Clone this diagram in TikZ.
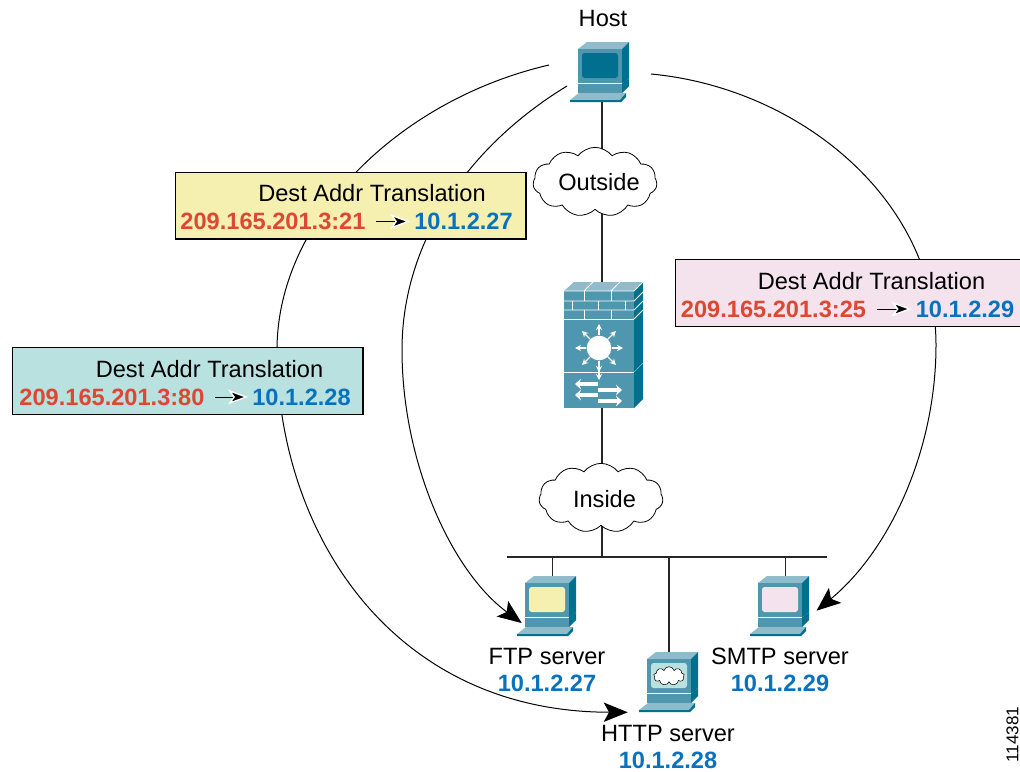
\documentclass[tikz,border=0pt]{standalone}
\usepackage{fontspec}
\setmainfont{Liberation Sans}
\usetikzlibrary{shapes.symbols,arrows.meta,positioning,calc}

\definecolor{iconfront}{HTML}{4F97AF}
\definecolor{icontop}{HTML}{8FBBCB}
\definecolor{iconside}{HTML}{00708F}
\definecolor{ftpfill}{HTML}{F5F0B0}
\definecolor{httpfill}{HTML}{B9E1DF}
\definecolor{smtpfill}{HTML}{F4E3EC}
\definecolor{addrred}{HTML}{DD4733}
\definecolor{addrblue}{HTML}{0A72BC}

\begin{document}
\begin{tikzpicture}[
    x=0.75pt, y=-0.75pt,
    label/.style={font=\fontsize{17.7}{20}\selectfont, inner sep=0pt},
    addr/.style={label, font=\fontsize{17.7}{20}\selectfont\bfseries},
    srcaddr/.style={addr, text=addrred},
    dstaddr/.style={addr, text=addrblue},
    addrbox/.style={draw, line width=1pt, minimum width=263pt, minimum height=50pt, inner sep=0pt},
    addrarrow/.style={-{Stealth[length=15pt, width=11pt, inset=4pt, fill=black, color=white, line width=1pt]}, line width=0.75pt, shorten <=8pt, shorten >=3pt},
    link/.style={draw=black!85, line width=1pt},
    flow/.style={-{Stealth[length=18pt, width=14.5pt, inset=4pt]}, line width=0.75pt},
    netcloud/.style={cloud, cloud puffs=11, cloud puff arc=105, aspect=1.8, draw, fill=white, line width=0.6pt,
        minimum width=93pt, minimum height=52pt, inner sep=0pt},
    iconbox/.style={minimum width=37.5pt, minimum height=45pt, inner sep=0pt},
    pics/computer/.style={code={
        \begin{scope}[shift={(-22,-23)}]
            \fill[icontop] (0,0) -- (9,-7) -- (51,-7) -- (44,0) -- cycle;
            \fill[iconside] (44,0) -- (51,-7) -- (51,29) -- (44,35) -- cycle;
            \fill[iconfront] (0,0) rectangle (44,34);
            \fill[iconfront] (0,35) rectangle (44,44);
            \fill[iconside] (44,35) -- (51,29) -- (51,37) -- (44,44) -- cycle;
            \fill[icontop] (1,44) -- (-8,51) -- (42,51) -- (48,44) -- cycle;
            \fill[iconside] (-8,51) -- (42,51) -- (48,44) -- (48,48) -- (43,53) -- (-8,53) -- cycle;
            \fill[#1, rounded corners=2pt] (4,4) rectangle (40,29);
        \end{scope}
    }}
]

\useasboundingbox (0,0) rectangle (1020,771);

% Computers
\node[iconbox] (host) at (600,72) {};
\node[iconbox] (ftp) at (547,606) {};
\node[iconbox] (http) at (669,682) {};
\node[iconbox] (smtp) at (780,606) {};

% Firewall
\node[minimum width=60pt, minimum height=94pt, inner sep=0pt] (firewall) at (602,345) {};

% Bus
\coordinate (bus) at (667,557);
\coordinate (buswest) at (507,557);
\coordinate (buseast) at (827,557);

% Free ends of the curves
\coordinate (hostleft) at (549,65);
\coordinate (hostlower) at (567,86);
\coordinate (hostright) at (651,74);

% Wiring
\draw[link] (firewall.north |- host.south) -- (firewall.north);
\draw[link] (firewall.south) -- (firewall.south |- bus);
\draw[link] (buswest) -- (buseast);
\draw[link] (ftp.80 |- bus) -- (ftp.80);
\draw[link] (http.north |- bus) -- (http.north);
\draw[link] (smtp.80 |- bus) -- (smtp.80);

% Clouds
\node[netcloud] (outside) at (595,182) {};
\node[netcloud] (inside) at (601,498) {};

% Translation paths
\draw[flow, shorten >=12pt] (hostleft) .. controls (398,100) and (277,220) .. (277,350)
    .. controls (277,530) and (390,712) .. (http.south west);
\draw[flow] (hostlower) .. controls (470,145) and (402,240) .. (402,350)
    .. controls (402,460) and (450,570) .. (ftp.214);
\draw[flow, shorten >=11pt] (hostright) .. controls (800,88) and (936,200) .. (936,345)
    .. controls (936,450) and (890,550) .. (smtp.-29);

% Icons
\pic at (host) {computer=iconside};
\pic at (ftp) {computer=ftpfill};
\pic at (http) {computer=httpfill};
\pic at (smtp) {computer=smtpfill};

% Firewall icon
\fill[icontop] (564,291) -- (574,282) -- (643,282) -- (634,291) -- cycle;
\fill[iconside] (634,291) -- (643,282) -- (643,399) -- (634,408) -- cycle;
\fill[iconfront] (564,291) rectangle (634,408);
\draw[white, line width=0.6pt] (564,319) -- (634,319) (564,372) -- (634,372);
\draw[white, line width=0.6pt] (564,291) -- (634,291) -- (643,282);
\draw[white, line width=0.6pt] (564,301) -- (634,301) -- (643,292) (564,310) -- (634,310) -- (643,301) (634,319) -- (643,310);
\draw[white, line width=0.6pt] (584,291) -- (593,282) (611,291) -- (620,282);
\draw[white, line width=0.6pt] (584,291) -- (584,301) (611,291) -- (611,301);
\draw[white, line width=0.6pt] (572,301) -- (572,310) (598,301) -- (598,310) (625,301) -- (625,310);
\draw[white, line width=0.6pt] (584,310) -- (584,319) (611,310) -- (611,319);
\draw[icontop, line width=0.4pt] (634,372) -- (643,363);
\node[circle, fill=white, minimum size=18.5pt, inner sep=0pt] (hub) at (599,348) {};
\foreach \a in {0,45,...,315}
    \draw[white, line width=1pt, -{Stealth[length=4.5pt, width=4.5pt]}] (hub) -- ++(\a:24);
\draw[white, line width=1pt, -{Stealth[length=4.5pt, width=4.5pt]}] (hub.south) -- (599,380);
\draw[white, line width=3pt, -{Stealth[length=4.5pt, width=8pt]}] (598,384) -- (575,384);
\draw[white, line width=3pt, -{Stealth[length=4.5pt, width=8pt]}] (598,390) -- (622,390);
\draw[white, line width=3pt, -{Stealth[length=4.5pt, width=8pt]}] (598,395) -- (575,395);
\draw[white, line width=3pt, -{Stealth[length=4.5pt, width=8pt]}] (598,401) -- (622,401);

% Cloud on the HTTP screen
\node[cloud, cloud puffs=9, aspect=1.6, draw=black, fill=white, line width=0.4pt, minimum width=23pt, minimum height=14pt, inner sep=0pt] (httpcloud) at (669,676) {};

% Labels
\node[label] (hostname) at (603,18) {Host};
\node[label] (outsidename) at (599,182) {Outside};
\node[label] (insidename) at (604.5,499) {Inside};
\node[label] (ftpname) at (547,656) {FTP server};
\node[addr, text=addrblue] (ftpip) at (547,683) {10.1.2.27};
\node[label] (httpname) at (668,733) {HTTP server};
\node[addr, text=addrblue] (httpip) at (668,760) {10.1.2.28};
\node[label] (smtpname) at (780,656) {SMTP server};
\node[addr, text=addrblue] (smtpip) at (780,683) {10.1.2.29};
\node[rotate=90, inner sep=0pt, font=\fontsize{12.8}{14}\selectfont] (figno) at (1012.5,734.5) {114381};

% FTP translation
\node[addrbox, fill=ftpfill] (ftpbox) at (350.5,205.5) {};
\node[label] (ftptitle) at ($(ftpbox)+(21.5,-12)$) {Dest Addr Translation};
\node[srcaddr] (ftpsrc) at ($(ftpbox)+(-77.5,16)$) {209.165.201.3:21};
\node[dstaddr] (ftpdst) at ($(ftpbox)+(113,16)$) {10.1.2.27};
\draw[addrarrow] (ftpsrc) -- (ftpdst);

% HTTP translation
\node[addrbox, fill=httpfill] (httpbox) at (187.5,381) {};
\node[label] (httptitle) at ($(httpbox)+(22,-12)$) {Dest Addr Translation};
\node[srcaddr] (httpsrc) at ($(httpbox)+(-75.5,16)$) {209.165.201.3:80};
\node[dstaddr] (httpdst) at ($(httpbox)+(114,16)$) {10.1.2.28};
\draw[addrarrow] (httpsrc) -- (httpdst);

% SMTP translation
\node[addrbox, fill=smtpfill] (smtpbox) at (850.5,293) {};
\node[label] (smtptitle) at ($(smtpbox)+(21,-12)$) {Dest Addr Translation};
\node[srcaddr] (smtpsrc) at ($(smtpbox)+(-77,16)$) {209.165.201.3:25};
\node[dstaddr] (smtpdst) at ($(smtpbox)+(114.5,16)$) {10.1.2.29};
\draw[addrarrow] (smtpsrc) -- (smtpdst);

\end{tikzpicture}
\end{document}
